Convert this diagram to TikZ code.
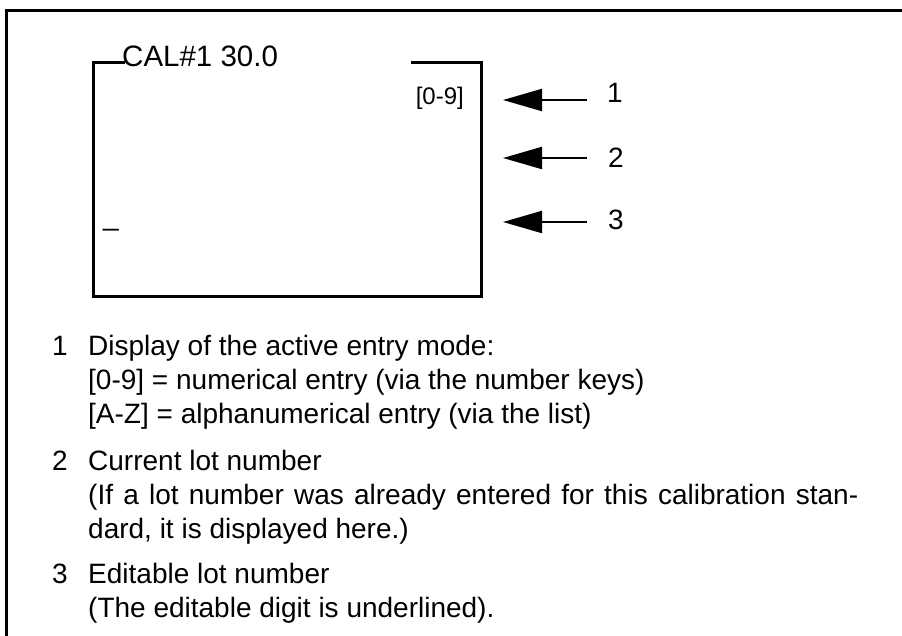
\documentclass[tikz,border=0pt]{standalone}
\usepackage{fontspec}
\setmainfont{Liberation Sans}
\usetikzlibrary{arrows.meta}
\begin{document}
\begin{tikzpicture}[x=1pt,y=-1pt,
  txt/.style={inner sep=0pt,anchor=base west,font=\fontsize{28}{34}\selectfont},
  titletxt/.style={inner sep=0pt,anchor=base west,font=\fontsize{29.5}{34}\selectfont},
  smalltxt/.style={inner sep=0pt,anchor=base east,font=\fontsize{24}{28}\selectfont},
  frameline/.style={line width=3pt,line cap=rect,line join=miter},
  pointer/.style={line width=2pt,-{Triangle[length=39pt,width=22pt]}}]
\useasboundingbox (0,0) rectangle (902,635);

% outer frame (top and left edges)
\draw[frameline] (902,10) -- (6,10) -- (6,640);

% display screen with title gap
\draw[frameline] (123,62) -- (93,62) -- (93,296) -- (481,296) -- (481,62) -- (412,62);
\node[titletxt] (title) at (122,66) {CAL\#1 30.0};
\node[smalltxt] (mode) at (464,104) {[0-9]};
\node[txt] (cursor) at (103,225) {\_};

% callout arrows
\node[txt] (l1) at (607,102) {1};
\node[txt] (l2) at (608,167) {2};
\node[txt] (l3) at (608,229) {3};
\coordinate (s1) at (587,100); \coordinate (e1) at (503,100);
\coordinate (s2) at (587,158); \coordinate (e2) at (503,158);
\coordinate (s3) at (587,222); \coordinate (e3) at (503,222);
\draw[pointer] (s1) -- (e1);
\draw[pointer] (s2) -- (e2);
\draw[pointer] (s3) -- (e3);

% legend
\node[txt] (k1) at (52,355) {1};
\node[txt] (d1a) at (88,355) {Display of the active entry mode:};
\node[txt] (d1b) at (88,389) {[0-9] = numerical entry (via the number keys)};
\node[txt] (d1c) at (88,423) {[A-Z] = alphanumerical entry (via the list)};
\node[txt] (k2) at (52,470) {2};
\node[txt] (d2a) at (88,470) {Current lot number};
\node[txt] (d2b) at (88,504) {\makebox[770pt][s]{(If a lot number was already entered for this calibration stan-}};
\node[txt] (d2c) at (88,538) {dard, it is displayed here.)};
\node[txt] (k3) at (52,583) {3};
\node[txt] (d3a) at (88,583) {Editable lot number};
\node[txt] (d3b) at (88,617) {(The editable digit is underlined).};
\end{tikzpicture}
\end{document}
